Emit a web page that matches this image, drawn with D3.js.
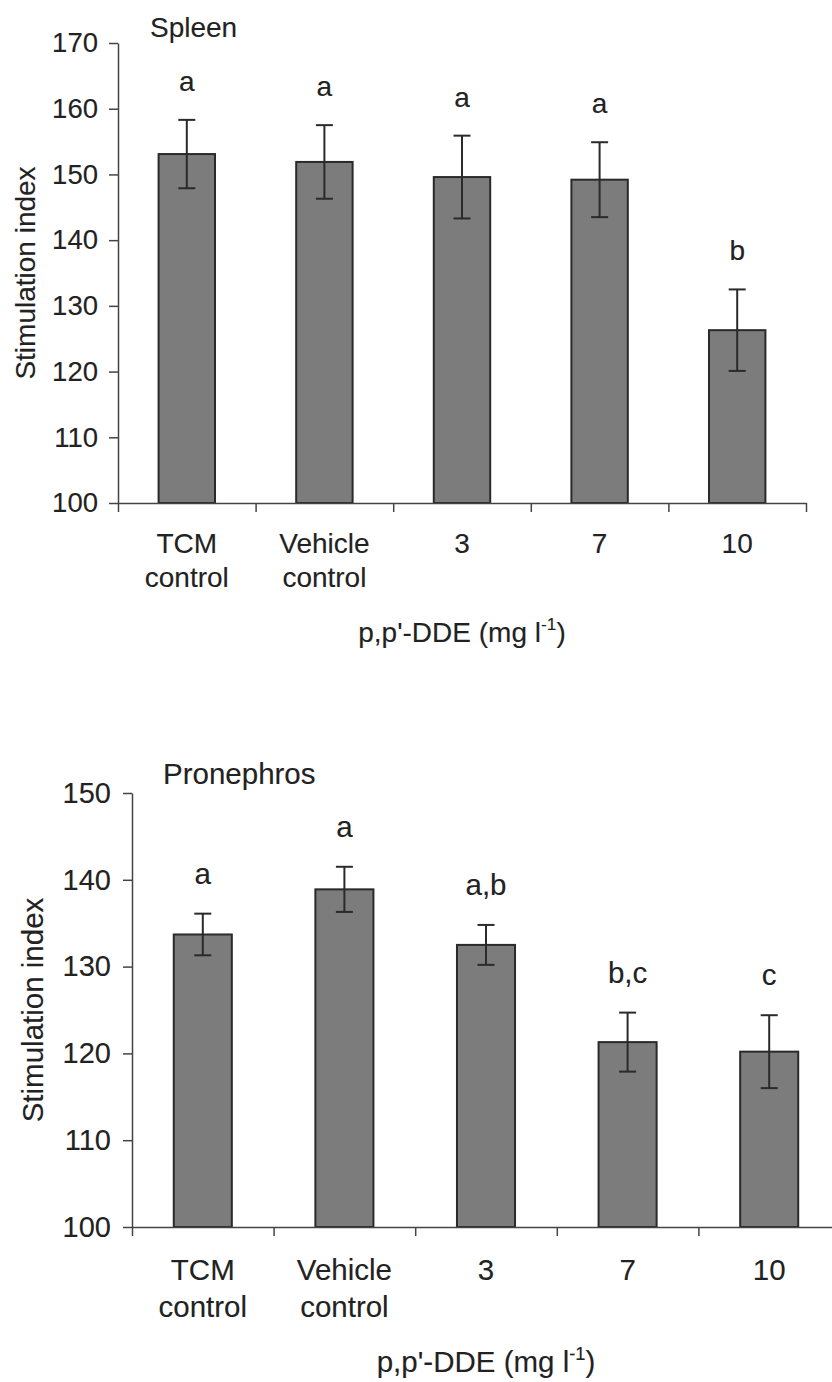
<!DOCTYPE html>
<html>
<head>
<meta charset="utf-8">
<script src="https://cdn.jsdelivr.net/npm/d3@7"></script>
<style>
  html, body { margin: 0; padding: 0; background: #fff; }
  svg { display: block; }
  text { font-family: "Liberation Sans", Arial, sans-serif; fill: #222; stroke: #222; stroke-width: 0.12px; }
</style>
</head>
<body>
<svg id="chart" width="832" height="1382"></svg>
<script>
// Treatment groups (multi-line tick labels)
const categories = ["TCM control", "Vehicle control", "3", "7", "10"];
const categoryLines = [["TCM", "control"], ["Vehicle", "control"], ["3"], ["7"], ["10"]];

// Spleen: mean stimulation index, standard error, significance letters
const spleenMeans = [153.1, 151.9, 149.6, 149.2, 126.3];
const spleenErrors = [5.2, 5.6, 6.3, 5.7, 6.2];
const spleenLetters = ["a", "a", "a", "a", "b"];
const spleenTicks = [100, 110, 120, 130, 140, 150, 160, 170];

// Pronephros
const pronephrosMeans = [133.7, 138.9, 132.5, 121.3, 120.2];
const pronephrosErrors = [2.4, 2.6, 2.3, 3.4, 4.2];
const pronephrosLetters = ["a", "a", "a,b", "b,c", "c"];
const pronephrosTicks = [100, 110, 120, 130, 140, 150];

const svg = d3.select("#chart");

function drawPanel(opt) {
  const g = svg.append("g");
  const y = d3.scaleLinear()
    .domain([opt.ticks[0], opt.ticks[opt.ticks.length - 1]])
    .range([opt.bottom, opt.top]);
  // slots for axis tick marks at group boundaries
  const slot = d3.scaleBand().domain(categories).range([opt.left, opt.right]).padding(0);
  // narrower bands for the bars, centred in each slot
  const x = d3.scaleBand().domain(categories).range([opt.left, opt.right])
    .paddingInner(0.59).paddingOuter(0.295);

  const rows = categories.map((c, i) => ({
    cat: c, lines: categoryLines[i], mean: opt.means[i], err: opt.errors[i], letter: opt.letters[i]
  }));

  // bars
  g.selectAll("rect.bar").data(rows).join("rect")
    .attr("class", "bar")
    .attr("x", d => x(d.cat))
    .attr("width", x.bandwidth())
    .attr("y", d => y(d.mean))
    .attr("height", d => y(opt.ticks[0]) - y(d.mean))
    .attr("fill", "#7c7c7c")
    .attr("stroke", "#2a2a2a")
    .attr("stroke-width", 2);

  // error bars
  const cap = opt.cap;
  const eb = g.selectAll("g.err").data(rows).join("g").attr("class", "err")
    .attr("stroke", "#2a2a2a").attr("stroke-width", 2);
  eb.append("line")
    .attr("x1", d => x(d.cat) + x.bandwidth() / 2)
    .attr("x2", d => x(d.cat) + x.bandwidth() / 2)
    .attr("y1", d => y(d.mean + d.err))
    .attr("y2", d => y(d.mean - d.err));
  eb.append("line")
    .attr("x1", d => x(d.cat) + x.bandwidth() / 2 - cap / 2)
    .attr("x2", d => x(d.cat) + x.bandwidth() / 2 + cap / 2)
    .attr("y1", d => y(d.mean + d.err))
    .attr("y2", d => y(d.mean + d.err));
  eb.append("line")
    .attr("x1", d => x(d.cat) + x.bandwidth() / 2 - cap / 2)
    .attr("x2", d => x(d.cat) + x.bandwidth() / 2 + cap / 2)
    .attr("y1", d => y(d.mean - d.err))
    .attr("y2", d => y(d.mean - d.err));

  // significance letters
  g.selectAll("text.letter").data(rows).join("text")
    .attr("class", "letter")
    .attr("x", d => x(d.cat) + x.bandwidth() / 2)
    .attr("y", d => y(d.mean + d.err) - opt.letterGap)
    .attr("text-anchor", "middle")
    .style("font-size", opt.labelSize + "px")
    .text(d => d.letter);

  // y axis
  const yAxis = d3.axisLeft(y).tickValues(opt.ticks).tickSize(opt.tickLen)
    .tickPadding(opt.tickPad).tickSizeOuter(0).tickFormat(d3.format("d"));
  const ya = g.append("g").attr("transform", `translate(${opt.left},0)`).call(yAxis);
  ya.select(".domain").attr("stroke", "#444").attr("stroke-width", 1.5);
  ya.selectAll(".tick line").attr("stroke", "#444").attr("stroke-width", 1.5);
  ya.selectAll(".tick text")
    .style("font-size", opt.tickSize + "px")
    .style("font-family", '"Liberation Sans", Arial, sans-serif')
    .attr("fill", "#222");

  // x axis with tick marks at group boundaries
  const bounds = categories.map(c => slot(c)).concat([opt.right]);
  const xAxis = d3.axisBottom(d3.scaleLinear().domain([opt.left, opt.right]).range([opt.left, opt.right]))
    .tickValues(bounds).tickSize(opt.tickLen).tickSizeOuter(0).tickFormat("");
  const xa = g.append("g").attr("transform", `translate(0,${opt.bottom})`).call(xAxis);
  xa.select(".domain").attr("stroke", "#444").attr("stroke-width", 1.5);
  xa.selectAll(".tick line").attr("stroke", "#444").attr("stroke-width", 1.5);

  // category labels
  const cl = g.selectAll("text.cat").data(rows).join("text")
    .attr("class", "cat")
    .attr("text-anchor", "middle")
    .style("font-size", opt.labelSize + "px")
    .attr("x", d => slot(d.cat) + slot.bandwidth() / 2)
    .attr("y", opt.catY);
  cl.selectAll("tspan").data(d => d.lines.map(t => ({ t, cx: slot(d.cat) + slot.bandwidth() / 2 })))
    .join("tspan")
    .attr("x", d => d.cx)
    .attr("dy", (d, i) => i === 0 ? 0 : opt.lineGap)
    .text(d => d.t);

  // x axis title
  const xt = g.append("text")
    .attr("x", (opt.left + opt.right) / 2)
    .attr("y", opt.xTitleY)
    .attr("text-anchor", "middle")
    .style("font-size", opt.labelSize + "px");
  xt.append("tspan").text("p,p'-DDE (mg l");
  xt.append("tspan").attr("dy", -opt.labelSize * 0.42).style("font-size", (opt.labelSize * 0.62) + "px").text("-1");
  xt.append("tspan").attr("dy", opt.labelSize * 0.42).text(")");

  // y axis title
  g.append("text")
    .attr("transform", `translate(${opt.yTitleX},${(opt.top + opt.bottom) / 2}) rotate(-90)`)
    .attr("text-anchor", "middle")
    .style("font-size", opt.labelSize + "px")
    .text("Stimulation index");

  // panel title
  g.append("text")
    .attr("x", opt.titleX)
    .attr("y", opt.titleY)
    .style("font-size", opt.labelSize + "px")
    .text(opt.title);
}

drawPanel({
  title: "Spleen", means: spleenMeans, errors: spleenErrors, letters: spleenLetters, ticks: spleenTicks,
  left: 118, right: 806, top: 43, bottom: 503,
  tickLen: 9, tickPad: 11, tickSize: 27.5, labelSize: 28, cap: 17, letterGap: 29,
  catY: 553, lineGap: 34, xTitleY: 642, yTitleX: 35, titleX: 150, titleY: 37
});

drawPanel({
  title: "Pronephros", means: pronephrosMeans, errors: pronephrosErrors, letters: pronephrosLetters, ticks: pronephrosTicks,
  left: 132, right: 840, top: 793, bottom: 1227,
  tickLen: 9, tickPad: 12, tickSize: 29, labelSize: 29.5, cap: 17, letterGap: 30,
  catY: 1280, lineGap: 37, xTitleY: 1372, yTitleX: 43, titleX: 163, titleY: 784
});
</script>
</body>
</html>
